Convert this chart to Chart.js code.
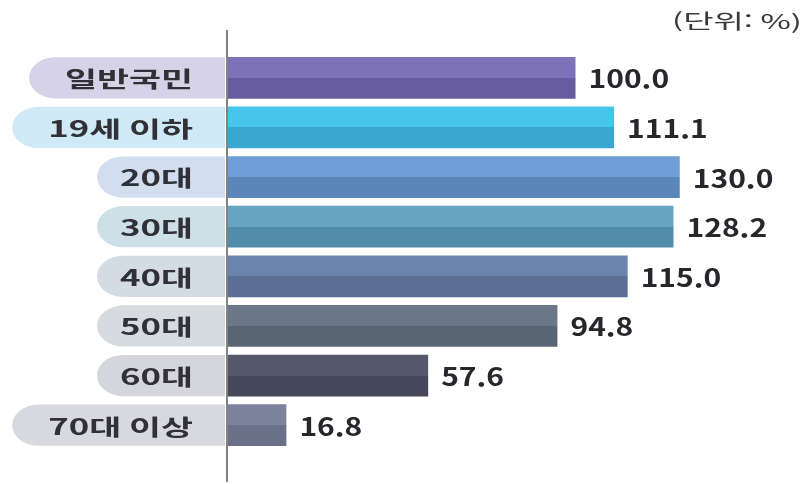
<!DOCTYPE html>
<html lang="ko">
<head>
<meta charset="utf-8">
<title>연령대별 비율</title>
<script src="https://cdn.jsdelivr.net/npm/chart.js@4/dist/chart.umd.min.js"></script>
<style>
  html, body { margin: 0; padding: 0; background: #ffffff; }
  #wrap { width: 808px; height: 484px; }
</style>
</head>
<body>
<div id="wrap"><canvas id="c" width="808" height="484"></canvas></div>
<script>
// Categories and values (unit: %)
const categories = ['일반국민', '19세 이하', '20대', '30대', '40대', '50대', '60대', '70대 이상'];
const values = [100.0, 111.1, 130.0, 128.2, 115.0, 94.8, 57.6, 16.8];
const unitLabel = '(단위: %)';

// Two-tone bar fills (upper half / lower half) and label tag fills
const topColors = ['#7d72b8', '#46c4ea', '#6e9ed5', '#66a5c1', '#6a84ae', '#6b7787', '#55576b', '#7d839d'];
const bottomColors = ['#675c9f', '#39a7d0', '#5b86ba', '#518ca8', '#5b6f95', '#5a6574', '#45485a', '#6b7188'];
const pillColors = ['#d6d2e7', '#cfeaf6', '#d2deef', '#cde0e8', '#d3dbe5', '#d6dbe0', '#d4d6db', '#d7d9df'];

const BAR_PCT = 0.84;
const FONT = '"Noto Sans CJK KR", "Noto Sans", sans-serif';

function twoTone(c) {
  const chart = c.chart;
  const i = c.dataIndex;
  const y = chart.scales.y;
  if (!chart.chartArea || !y || y.height === undefined) return topColors[i];
  const band = y.height / categories.length;
  const center = y.getPixelForValue(i);
  const half = band * BAR_PCT / 2;
  const g = chart.ctx.createLinearGradient(0, center - half, 0, center + half);
  g.addColorStop(0, topColors[i]);
  g.addColorStop(0.5, topColors[i]);
  g.addColorStop(0.5, bottomColors[i]);
  g.addColorStop(1, bottomColors[i]);
  return g;
}

// Text drawn with a horizontal stretch (wide display face)
function wideText(ctx, text, x, y, align, sx) {
  ctx.save();
  ctx.translate(x, y);
  ctx.scale(sx, 1);
  ctx.textAlign = align;
  ctx.fillText(text, 0, 0);
  ctx.restore();
}

// Rounded category tags left of the axis, the axis line, value labels and unit note
const decorations = {
  id: 'decorations',
  afterDatasetsDraw(chart) {
    const ctx = chart.ctx;
    const area = chart.chartArea;
    const y = chart.scales.y;
    const band = y.height / categories.length;
    const ry = band * 0.83 / 2;
    const rx = 26;
    const right = area.left - 3;
    const LABEL_SX = 1.58;
    ctx.save();

    // category tags: short tags share one left edge, long ones grow to fit
    ctx.font = 'bold 22px ' + FONT;
    ctx.textBaseline = 'middle';
    categories.forEach((name, i) => {
      const cy = y.getPixelForValue(i);
      const textRight = area.left - 35;
      const tw = ctx.measureText(name).width * LABEL_SX;
      const left = tw > 100 ? textRight - tw - 36 : 97;
      ctx.fillStyle = pillColors[i];
      ctx.beginPath();
      ctx.moveTo(right, cy - ry);
      ctx.lineTo(left + rx, cy - ry);
      ctx.ellipse(left + rx, cy, rx, ry, 0, -Math.PI / 2, Math.PI / 2, true);
      ctx.lineTo(right, cy + ry);
      ctx.closePath();
      ctx.fill();
      ctx.fillStyle = '#303036';
      wideText(ctx, name, textRight, cy + 1, 'right', LABEL_SX);
    });

    // vertical axis line
    ctx.strokeStyle = '#5a5a5a';
    ctx.lineWidth = 1.5;
    ctx.beginPath();
    ctx.moveTo(area.left - 1, 30);
    ctx.lineTo(area.left - 1, chart.height - 2);
    ctx.stroke();

    // value labels
    ctx.font = 'bold 25px ' + FONT;
    ctx.fillStyle = '#26262b';
    const meta = chart.getDatasetMeta(0);
    meta.data.forEach((bar, i) => {
      wideText(ctx, values[i].toFixed(1), bar.x + 13, bar.y + 1, 'left', 1.2);
    });

    // unit note
    ctx.font = '20px ' + FONT;
    ctx.fillStyle = '#3a3a3a';
    const uw = ctx.measureText(unitLabel).width;
    wideText(ctx, unitLabel, 802, 21, 'right', 130 / uw);
    ctx.restore();
  }
};

new Chart(document.getElementById('c'), {
  type: 'bar',
  data: {
    labels: categories,
    datasets: [{
      data: values,
      backgroundColor: twoTone,
      borderWidth: 0,
      barPercentage: BAR_PCT,
      categoryPercentage: 1.0
    }]
  },
  options: {
    indexAxis: 'y',
    responsive: false,
    animation: false,
    layout: { padding: { left: 228, right: 24, top: 53, bottom: 34 } },
    scales: {
      x: { display: false, min: 0, max: 160 },
      y: { display: false }
    },
    plugins: {
      legend: { display: false },
      tooltip: { enabled: false }
    }
  },
  plugins: [decorations]
});
</script>
</body>
</html>
